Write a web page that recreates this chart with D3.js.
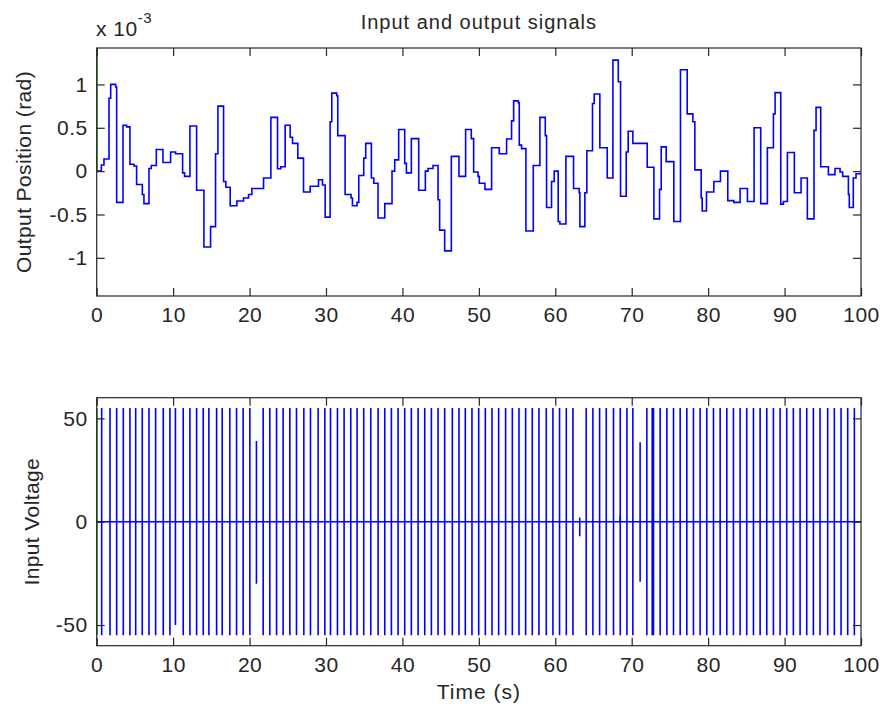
<!DOCTYPE html>
<html>
<head>
<meta charset="utf-8">
<script src="https://cdn.jsdelivr.net/npm/d3@7"></script>
<style>
  body { margin: 0; background: #fff; }
  text { font-family: "Liberation Sans", Arial, sans-serif; fill: #262626; }
</style>
</head>
<body>
<svg id="chart" width="881" height="709"></svg>
<script>
// Tick labels
const timeTicks = [0, 10, 20, 30, 40, 50, 60, 70, 80, 90, 100];
const posTicks = [-1, -0.5, 0, 0.5, 1];
const voltTicks = [-50, 0, 50];

// Output position, staircase (time in s, value in 1e-3 rad)
const stepTimes = [0, 0.61, 0.95, 1.61, 1.83, 2.48, 2.61, 3.44, 3.92, 4.35, 4.88, 5.22, 5.97, 6.18, 6.84, 7.14, 7.8, 8.67, 9.67, 10.32,
  11.24, 11.5, 12.2, 13.07, 14.03, 14.9, 15.55, 15.86, 16.6, 16.9, 17.47, 18.34, 19.21, 19.87, 20.3, 21.83, 22.79, 23.66, 24.09, 24.66,
  25.31, 25.62, 26.31, 27.06, 27.93, 29.02, 29.54, 29.89, 30.54, 30.76, 31.41, 31.54, 32.5, 33.28, 33.46, 34.07, 34.29, 34.94, 35.2, 35.94,
  36.25, 36.81, 37.69, 38.64, 38.99, 39.51, 40.3, 40.52, 41.17, 42.13, 43.0, 43.35, 44.0, 44.66, 44.87, 45.53, 46.4, 47.4, 48.27, 49.01,
  49.32, 49.89, 50.06, 50.8, 51.67, 52.67, 53.63, 54.28, 54.55, 55.16, 55.29, 55.59, 56.16, 57.12, 57.99, 58.69, 58.86, 59.51, 59.86, 60.38,
  60.6, 61.39, 62.39, 63.13, 63.22, 63.87, 64.13, 64.87, 65.09, 65.83, 66.8, 67.54, 68.24, 68.54, 69.28, 69.54, 70.15, 72.03, 72.9, 73.64,
  73.86, 74.51, 75.51, 76.38, 77.26, 78.0, 78.26, 79.09, 79.22, 79.78, 80.74, 81.61, 82.57, 83.36, 84.18, 85.14, 86.01, 86.88, 87.75, 88.54,
  88.76, 89.5, 89.85, 90.37, 91.28, 92.16, 92.98, 93.85, 94.12, 94.73, 95.73, 96.6, 97.26, 97.6, 98.35, 98.47, 98.99, 99.35, 100];
const stepValues = [0, 0.07, 0.14, 0.84, 1.0, 0.97, -0.36, 0.53, 0.51, 0.08, 0.06, -0.155, -0.27, -0.375, 0.03, 0.065, 0.25, 0.1, 0.22, 0.2,
  -0.02, -0.06, 0.52, -0.22, -0.875, -0.64, 0.2, 0.75, -0.12, -0.185, -0.4, -0.345, -0.31, -0.27, -0.2, -0.08, 0.62, 0.027, 0.05, 0.53,
  0.39, 0.32, 0.15, -0.24, -0.175, -0.1, -0.16, -0.53, 0.57, 0.9, 0.87, 0.41, -0.27, -0.31, -0.4, -0.36, -0.05, 0.15, 0.32, -0.08,
  -0.14, -0.54, -0.375, 0, 0.13, 0.48, 0.09, -0.02, 0.375, -0.22, 0, 0.03, 0.065, -0.33, -0.68, -0.92, 0.17, -0.06, 0.48, 0.375,
  -0.01, -0.06, -0.14, -0.21, 0.27, 0.2, 0.37, 0.58, 0.81, 0.79, 0.3, 0.26, -0.69, 0.065, 0.62, 0.41, -0.42, -0.12, 0, -0.58,
  -0.61, 0.17, -0.2, -0.25, -0.64, -0.25, 0.235, 0.78, 0.89, 0.27, -0.08, 1.28, 1.03, -0.29, 0.22, 0.46, 0.32, 0.045, -0.55, -0.21,
  0.28, 0.11, -0.58, 1.17, 0.66, 0.57, 0.015, -0.31, -0.46, -0.24, -0.12, 0, -0.34, -0.36, -0.2, -0.35, 0.5, -0.375, 0.27, 0.66,
  0.905, -0.38, -0.35, 0.215, -0.25, -0.08, -0.55, 0.47, 0.735, 0.05, -0.04, 0.03, -0.01, -0.06, -0.27, -0.42, -0.08, -0.03, -0.03];

// Input voltage pulses (s); each swings to +55 / -55 V
const pulseTimes = [0.65, 1.74, 2.61, 3.48, 4.35, 5.1, 5.96, 6.84, 7.71, 8.71, 9.58, 11.32, 12.2, 13.07, 13.94, 14.68, 15.69, 16.42, 17.42, 18.3,
  19.16, 20.04, 21.78, 22.65, 23.53, 24.39, 25.27, 26.14, 27.1, 27.97, 28.97, 29.85, 30.59, 31.5, 32.37, 33.24, 34.07, 34.94, 35.86, 36.82,
  37.69, 38.56, 39.43, 40.3, 41.17, 42.05, 42.92, 43.79, 44.66, 45.53, 46.53, 47.4, 48.23, 49.1, 49.98, 50.85, 51.72, 52.59, 53.5, 54.38,
  55.25, 56.12, 56.99, 57.86, 58.82, 59.69, 60.56, 61.44, 62.31, 64.05, 64.92, 65.8, 66.67, 67.62, 68.5, 69.37, 70.15, 71.98, 72.68, 72.85,
  73.72, 74.6, 75.47, 76.34, 77.21, 78.08, 78.95, 79.82, 80.7, 81.57, 82.44, 83.31, 84.18, 85.05, 85.93, 86.8, 87.67, 88.54, 89.41, 90.28,
  91.15, 92.03, 92.9, 93.77, 94.64, 95.64, 96.51, 97.39, 98.26, 99.13];
const pulsePeak = 55;
// Pulses that do not reach the full swing
const partialTimes = [10.3, 20.9, 63.2, 68.5, 71.1];
const partialHigh = [55, 39, 2, 3, 38.5];
const partialLow = [-50, -30, -7, 0, -29];

const svg = d3.select("#chart");
const left = 96.7, right = 861;
const panels = [
  { top: 48, bottom: 296 },
  { top: 397.7, bottom: 645.7 }
];
const axisColor = "#262626";
const fontSize = 21;

const x = d3.scaleLinear().domain([0, 100]).range([left, right]);
const yPos = d3.scaleLinear().domain([-1.44, 1.42]).range([panels[0].bottom, panels[0].top]);
const yVolt = d3.scaleLinear().domain([-60, 60]).range([panels[1].bottom, panels[1].top]);

function drawAxes(p, y, yTicks) {
  const g = svg.append("g");
  const fmt = d => String(d);

  g.append("g")
    .attr("transform", `translate(0,${p.bottom})`)
    .call(d3.axisBottom(x).tickValues(timeTicks).tickFormat(fmt).tickSize(-8).tickPadding(11));
  g.append("g")
    .attr("transform", `translate(0,${p.top})`)
    .call(d3.axisTop(x).tickValues(timeTicks).tickFormat("").tickSize(-8));
  g.append("g")
    .attr("transform", `translate(${left},0)`)
    .call(d3.axisLeft(y).tickValues(yTicks).tickFormat(fmt).tickSize(-8).tickPadding(9));
  g.append("g")
    .attr("transform", `translate(${right},0)`)
    .call(d3.axisRight(y).tickValues(yTicks).tickFormat("").tickSize(-8));

  g.selectAll(".domain").remove();
  g.selectAll(".tick line").attr("stroke", axisColor).attr("stroke-width", 1.2);
  g.selectAll(".tick text").attr("fill", axisColor).attr("font-size", fontSize)
    .attr("font-family", "'Liberation Sans', Arial, sans-serif")
    .attr("letter-spacing", 0.5);

  g.append("rect")
    .attr("x", left).attr("y", p.top)
    .attr("width", right - left).attr("height", p.bottom - p.top)
    .attr("fill", "none").attr("stroke", axisColor).attr("stroke-width", 1.2);
}

// clip paths
panels.forEach((p, i) => {
  svg.append("clipPath").attr("id", "clip" + i)
    .append("rect")
    .attr("x", left).attr("y", p.top)
    .attr("width", right - left).attr("height", p.bottom - p.top);
});

// Top: output position
const stepData = stepTimes.map((t, i) => [t, stepValues[i]]);
const topLine = d3.line().x(d => x(d[0])).y(d => yPos(d[1])).curve(d3.curveStepAfter);

const gTop = svg.append("g").attr("clip-path", "url(#clip0)");
gTop.append("path")
  .datum([[0, 1.42], [0, 0]])
  .attr("d", d3.line().x(d => x(d[0])).y(d => yPos(d[1])))
  .attr("stroke", "#008000").attr("stroke-width", 2).attr("fill", "none");
gTop.append("path")
  .datum(stepData)
  .attr("d", topLine)
  .attr("stroke", "#0000ff").attr("stroke-width", 1.6).attr("fill", "none");

// Bottom: input voltage
const vLine = d3.line().x(d => x(d[0])).y(d => yVolt(d[1]));
const pulses = pulseTimes.map(t => ({ t: t, hi: pulsePeak, lo: -pulsePeak }))
  .concat(partialTimes.map((t, i) => ({ t: t, hi: partialHigh[i], lo: partialLow[i] })));

const gBot = svg.append("g").attr("clip-path", "url(#clip1)");
gBot.append("path")
  .datum([[0, pulsePeak], [0, -pulsePeak]])
  .attr("d", vLine)
  .attr("stroke", "#008000").attr("stroke-width", 2).attr("fill", "none");
gBot.append("path")
  .datum([[0, 0], [100, 0]])
  .attr("d", vLine)
  .attr("stroke", "#0000ff").attr("stroke-width", 1.6).attr("fill", "none");
gBot.selectAll("path.pulse")
  .data(pulses)
  .join("path")
  .attr("class", "pulse")
  .attr("d", d => vLine([[d.t, d.hi], [d.t, d.lo]]))
  .attr("stroke", "#0000ff").attr("stroke-width", 1.6).attr("fill", "none");

drawAxes(panels[0], yPos, posTicks);
drawAxes(panels[1], yVolt, voltTicks);

// Titles and labels
const cx = (left + right) / 2;
svg.append("text")
  .attr("x", cx).attr("y", 29)
  .attr("text-anchor", "middle").attr("font-size", 20).attr("letter-spacing", 1)
  .text("Input and output signals");

const expo = svg.append("text").attr("x", 96).attr("y", 36).attr("font-size", fontSize).attr("letter-spacing", 0.5);
expo.append("tspan").text("x 10");
expo.append("tspan").attr("dy", -13).attr("font-size", 15).text("-3");

svg.append("text")
  .attr("transform", `translate(31,${(panels[0].top + panels[0].bottom) / 2}) rotate(-90)`)
  .attr("text-anchor", "middle").attr("font-size", fontSize).attr("letter-spacing", 0.4)
  .text("Output Position (rad)");

svg.append("text")
  .attr("transform", `translate(39,${(panels[1].top + panels[1].bottom) / 2}) rotate(-90)`)
  .attr("text-anchor", "middle").attr("font-size", fontSize).attr("letter-spacing", 0.4)
  .text("Input Voltage");

svg.append("text")
  .attr("x", cx).attr("y", 699)
  .attr("text-anchor", "middle").attr("font-size", fontSize).attr("letter-spacing", 1)
  .text("Time (s)");
</script>
</body>
</html>
